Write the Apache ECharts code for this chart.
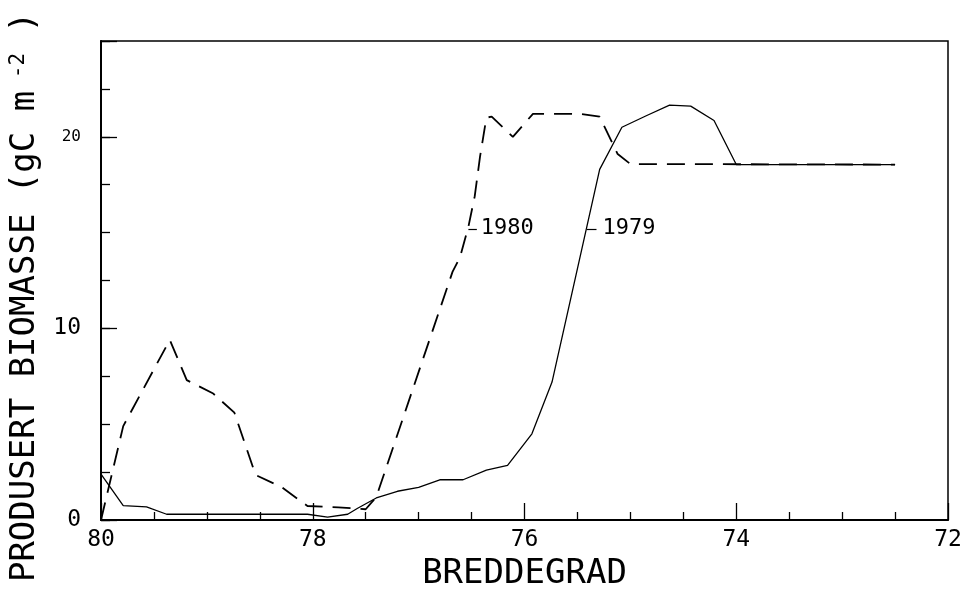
<!DOCTYPE html>
<html>
<head>
<meta charset="utf-8">
<script src="https://cdn.jsdelivr.net/npm/echarts@6/dist/echarts.min.js"></script>
<style>
html, body { margin: 0; background: #fff; }
#chart { width: 968px; height: 589px; }
</style>
</head>
<body>
<div id="chart"></div>
<script>
// breddegrad (x) og produsert biomasse gC m-2 (y), lest av figuren
const lat1979 = [80, 79.79, 79.57, 79.38, 78.05, 77.86, 77.67, 77.58, 77.4, 77.2, 77.0, 76.8, 76.58, 76.36, 76.16, 75.93, 75.74, 75.29, 75.08, 74.85, 74.63, 74.43, 74.21, 74.0, 72.5]
const val1979 = [2.4, 0.75, 0.68, 0.3, 0.3, 0.15, 0.3, 0.6, 1.15, 1.5, 1.7, 2.1, 2.1, 2.6, 2.85, 4.5, 7.2, 18.3, 20.5, 21.1, 21.65, 21.6, 20.85, 18.55, 18.55]

const lat1980 = [80, 79.79, 79.35, 79.19, 78.94, 78.74, 78.54, 78.29, 78.05, 77.76, 77.5, 77.4, 76.68, 76.61, 76.53, 76.47, 76.42, 76.36, 76.31, 76.11, 75.92, 75.48, 75.29, 75.12, 75.0, 72.5]
const val1980 = [0, 4.9, 9.4, 7.3, 6.6, 5.6, 2.35, 1.7, 0.73, 0.66, 0.56, 1.2, 12.95, 13.7, 15.3, 16.9, 18.96, 21.0, 21.05, 20.0, 21.2, 21.2, 21.05, 19.1, 18.58, 18.55]

const xTicks = [80, 78, 76, 74, 72]
const yLabels = [0, 10, 20]

const FONT = '"DejaVu Sans Mono", monospace'

function pairs(xs, ys) {
  return xs.map((x, i) => [x, ys[i]])
}

const chart = echarts.init(document.getElementById('chart'))

chart.setOption({
  animation: false,
  backgroundColor: '#fff',
  grid: {
    left: 101,
    right: 20,
    top: 41,
    bottom: 69,
    outerBoundsMode: 'none',
    show: true,
    borderColor: '#000',
    borderWidth: 1.5
  },
  xAxis: {
    type: 'value',
    min: 72,
    max: 80,
    interval: 2,
    inverse: true,
    name: 'BREDDEGRAD',
    nameLocation: 'middle',
    nameGap: 33,
    nameTextStyle: { fontFamily: FONT, fontSize: 34, color: '#000' },
    axisLine: { lineStyle: { color: '#000', width: 2 } },
    axisTick: { inside: true, length: 17, lineStyle: { color: '#000', width: 1.3 } },
    minorTick: { show: true, splitNumber: 4, length: 8, lineStyle: { color: '#000', width: 1.3 } },
    axisLabel: {
      fontFamily: FONT,
      fontSize: 23,
      color: '#000',
      margin: 9,
      formatter: v => (xTicks.indexOf(v) >= 0 ? String(v) : '')
    },
    splitLine: { show: false }
  },
  yAxis: [
    {
      type: 'value',
      min: 0,
      max: 25,
      interval: 10,
      position: 'left',
      name: '{a|PRODUSERT BIOMASSE (gC m}{b| -2}{a| )}',
      nameLocation: 'middle',
      nameGap: 52,
      nameRotate: 90,
      nameTextStyle: {
        color: '#000',
        padding: [0, 33, 0, 0],
        rich: {
          a: { fontFamily: FONT, fontSize: 34, color: '#000' },
          b: { fontFamily: FONT, fontSize: 21, color: '#000', verticalAlign: 'top' }
        }
      },
      axisLine: { show: true, lineStyle: { color: '#000', width: 2 } },
      axisTick: { inside: true, length: 16, lineStyle: { color: '#000', width: 1.3 } },
      axisLabel: {
        fontFamily: FONT,
        fontSize: 23,
        color: '#000',
        margin: 20,
        formatter: v => {
          if (yLabels.indexOf(v) < 0) return ''
          return v === 20 ? '{s|20}' : String(v)
        },
        rich: { s: { fontFamily: FONT, fontSize: 16, color: '#000' } }
      },
      splitLine: { show: false }
    },
    {
      type: 'value',
      min: 0,
      max: 25,
      interval: 2.5,
      position: 'left',
      axisLine: { show: false },
      axisTick: { inside: true, length: 9, lineStyle: { color: '#000', width: 1.3 } },
      axisLabel: { show: false },
      splitLine: { show: false }
    }
  ],
  series: [
    {
      name: '1979',
      type: 'line',
      data: pairs(lat1979, val1979),
      symbol: 'none',
      lineStyle: { color: '#000', width: 1.3 },
      markLine: {
        silent: true,
        symbol: 'none',
        lineStyle: { color: '#000', width: 1.2, type: 'solid' },
        label: { position: 'end', distance: 6, formatter: '1979', fontFamily: FONT, fontSize: 22, color: '#000' },
        data: [[{ coord: [75.41, 15.2] }, { coord: [75.32, 15.2] }]]
      }
    },
    {
      name: '1980',
      type: 'line',
      data: pairs(lat1980, val1980),
      symbol: 'none',
      lineStyle: { color: '#000', width: 1.8, type: [18, 10] },
      markLine: {
        silent: true,
        symbol: 'none',
        lineStyle: { color: '#000', width: 1.2, type: 'solid' },
        label: { position: 'end', distance: 4, formatter: '1980', fontFamily: FONT, fontSize: 22, color: '#000' },
        data: [[{ coord: [76.53, 15.2] }, { coord: [76.45, 15.2] }]]
      }
    }
  ]
})
</script>
</body>
</html>
